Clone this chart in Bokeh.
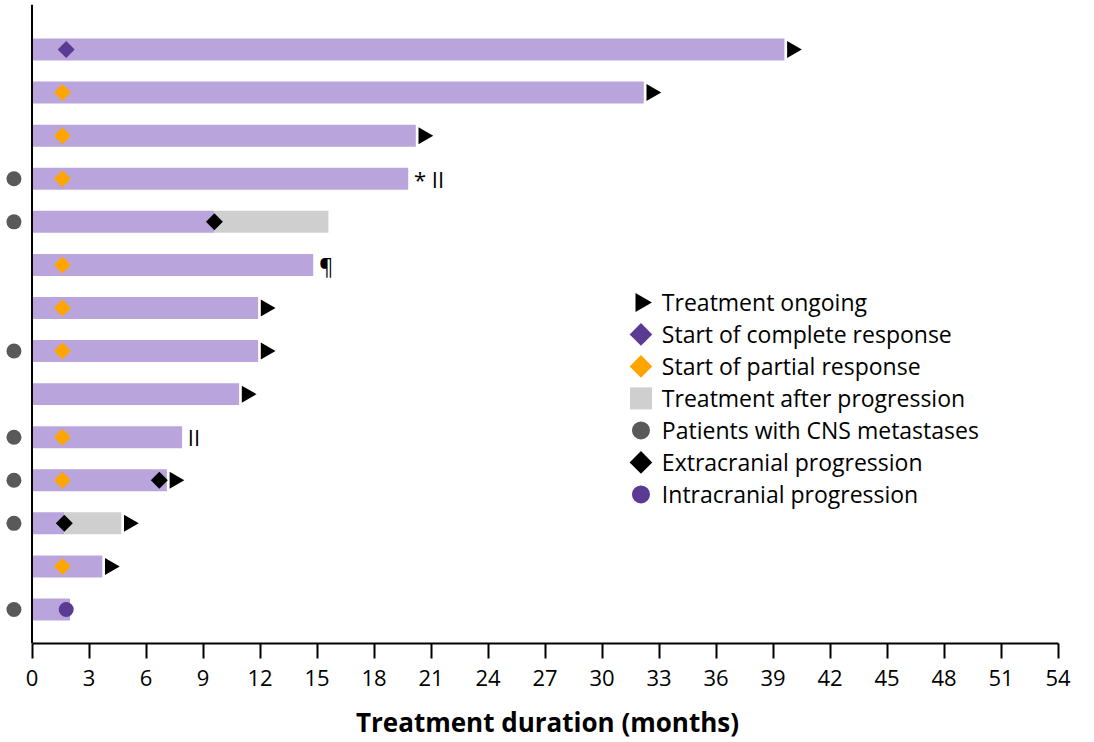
import math
from bokeh.plotting import figure
from bokeh.models import ColumnDataSource, Span, FixedTicker, Range1d
from bokeh.embed import file_html
from bokeh.resources import INLINE
from bokeh.core.properties import value

# ---------------- data (patients listed top to bottom) ----------------
patients = [1, 2, 3, 4, 5, 6, 7, 8, 9, 10, 11, 12, 13, 14]
duration = [39.6, 32.2, 20.2, 19.8, 15.6, 14.8, 11.9, 11.9, 10.9, 7.9, 7.1, 4.7, 3.7, 2.0]

after_prog_patients = [5, 12]          # treatment after progression (grey part)
after_prog_start = [9.6, 1.7]

cr_patients = [1]                       # start of complete response
cr_time = [1.8]
pr_patients = [2, 3, 4, 6, 7, 8, 10, 11, 13]   # start of partial response
pr_time = [1.6, 1.6, 1.6, 1.6, 1.6, 1.6, 1.6, 1.6, 1.6]
extra_patients = [5, 11, 12]            # extracranial progression
extra_time = [9.6, 6.7, 1.7]
intra_patients = [14]                   # intracranial progression
intra_time = [1.8]
ongoing_patients = [1, 2, 3, 7, 8, 9, 11, 12, 13]
cns_patients = [4, 5, 8, 10, 11, 12, 14]
note_patients = [4, 6, 10]
note_text = ["* II", "¶", "II"]

x_ticks = [0, 3, 6, 9, 12, 15, 18, 21, 24, 27, 30, 33, 36, 39, 42, 45, 48, 51, 54]

legend_labels = ["Treatment ongoing", "Start of complete response",
                 "Start of partial response", "Treatment after progression",
                 "Patients with CNS metastases", "Extracranial progression",
                 "Intracranial progression"]

# ---------------- styling ----------------
PURPLE_BAR = "#B9A5DC"
GREY_BAR = "#D0CFD0"
PURPLE = "#5B3A94"
ORANGE = "#FFA500"
DARK_GREY = "#595959"
FONT = "Open Sans"

legend_markers = ["triangle", "square", "square", "square", "circle", "square", "circle"]
legend_angles = [-math.pi / 2, math.pi / 4, math.pi / 4, 0, 0, math.pi / 4, 0]
legend_sizes = [19, 16, 16, 22, 18, 16, 18]
legend_colors = ["black", PURPLE, ORANGE, GREY_BAR, DARK_GREY, "black", PURPLE]
LEG_X = 32.05        # marker column (data units)
LEG_TX = 33.15       # label column
LEG_TOP = 8.13       # first row
LEG_STEP = 0.743     # row pitch

n = len(patients)
ypos = {p: n + 1 - p for p in patients}
dur = dict(zip(patients, duration))
ap = dict(zip(after_prog_patients, after_prog_start))

bar_src = ColumnDataSource(dict(
    y=[ypos[p] for p in patients],
    right=[ap.get(p, dur[p]) for p in patients],
))
grey_src = ColumnDataSource(dict(
    y=[ypos[p] for p in after_prog_patients],
    left=after_prog_start,
    right=[dur[p] for p in after_prog_patients],
))

p = figure(width=1094, height=742, output_backend="svg", toolbar_location=None,
           x_range=Range1d(-1.658, 55.92), y_range=Range1d(0.211, 15.045),
           min_border_left=0, min_border_right=0, min_border_top=4, min_border_bottom=99)
p.outline_line_color = None
p.xgrid.visible = False
p.ygrid.visible = False
p.yaxis.visible = False

p.hbar(y="y", left=0, right="right", height=0.51, source=bar_src,
       fill_color=PURPLE_BAR, line_color=None)
p.hbar(y="y", left="left", right="right", height=0.51, source=grey_src,
       fill_color=GREY_BAR, line_color=None)

# y axis line
p.add_layout(Span(location=0, dimension="height", line_color="black", line_width=2))

p.scatter(x=[dur[q] + 0.4 for q in ongoing_patients], y=[ypos[q] for q in ongoing_patients],
          marker="triangle", size=17, angle=-math.pi / 2, fill_color="black", line_color=None)
p.scatter(x=cr_time, y=[ypos[q] for q in cr_patients], marker="square",
          size=12, angle=math.pi / 4, fill_color=PURPLE, line_color=None)
p.scatter(x=pr_time, y=[ypos[q] for q in pr_patients], marker="square",
          size=12, angle=math.pi / 4, fill_color=ORANGE, line_color=None)
p.scatter(x=[-0.95] * len(cns_patients), y=[ypos[q] for q in cns_patients],
          marker="circle", size=15, fill_color=DARK_GREY, line_color=None)
p.scatter(x=extra_time, y=[ypos[q] for q in extra_patients], marker="square",
          size=12, angle=math.pi / 4, fill_color="black", line_color=None)
p.scatter(x=intra_time, y=[ypos[q] for q in intra_patients], marker="circle",
          size=15, fill_color=PURPLE, line_color=None)

p.text(x=[dur[q] + 0.3 for q in note_patients], y=[ypos[q] for q in note_patients],
       text=note_text, text_font=value(FONT), text_font_size="22px",
       text_align="left", text_baseline="middle", text_color="black")

# legend (drawn as glyphs so the markers keep their orientation)
leg_y = [LEG_TOP - i * LEG_STEP for i in range(len(legend_labels))]
leg_src = ColumnDataSource(dict(x=[LEG_X] * len(legend_labels), tx=[LEG_TX] * len(legend_labels),
                                y=leg_y, marker=legend_markers, angle=legend_angles,
                                size=legend_sizes, color=legend_colors, label=legend_labels))
p.scatter(x="x", y="y", marker="marker", angle="angle", size="size",
          fill_color="color", line_color=None, source=leg_src)
p.text(x="tx", y="y", text="label", source=leg_src, text_font=value(FONT),
       text_font_size="23px", text_align="left", text_baseline="middle", text_color="black")

# x axis
ax = p.xaxis[0]
ax.ticker = FixedTicker(ticks=x_ticks)
ax.bounds = (0, 54)
ax.axis_line_width = 2
ax.axis_line_color = "black"
ax.major_tick_line_width = 2
ax.major_tick_line_color = "black"
ax.major_tick_in = 0
ax.major_tick_out = 15
ax.minor_tick_line_color = None
ax.major_label_text_font = FONT
ax.major_label_text_font_size = "22px"
ax.major_label_text_color = "black"
ax.major_label_standoff = 11
ax.axis_label = "Treatment duration (months)"
ax.axis_label_text_font = FONT
ax.axis_label_text_font_size = "26px"
ax.axis_label_text_font_style = "bold"
ax.axis_label_text_color = "black"
ax.axis_label_standoff = 15

open("out.html", "w").write(file_html(p, INLINE))
